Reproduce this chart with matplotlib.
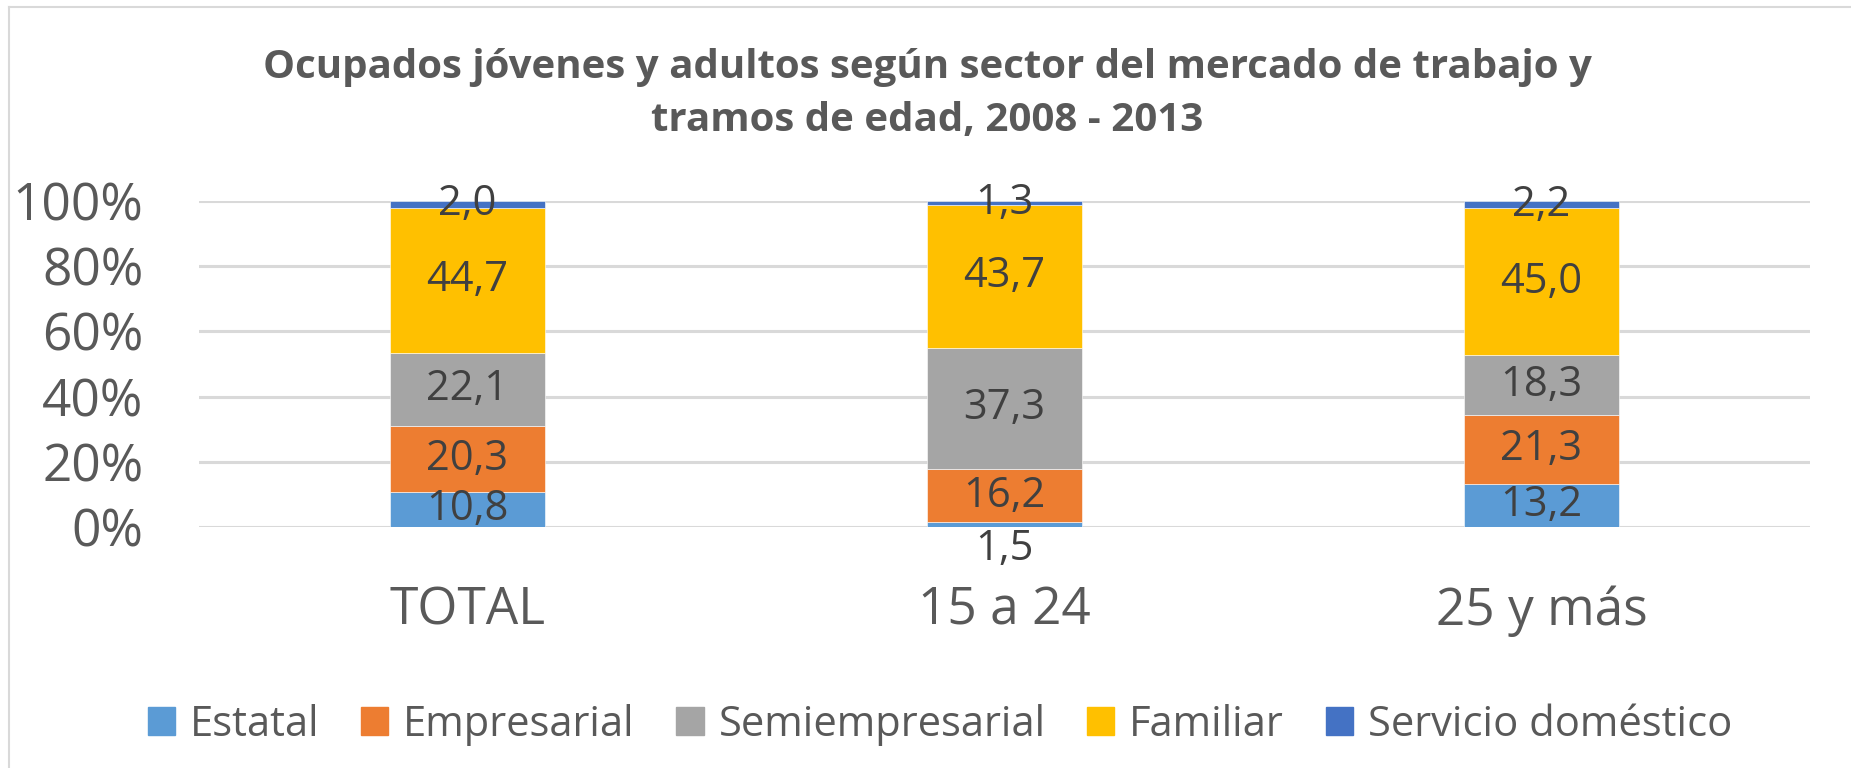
import matplotlib
matplotlib.use("Agg")
import matplotlib.pyplot as plt
from matplotlib.patches import Rectangle
from matplotlib.lines import Line2D
import numpy as np

plt.rcParams['font.family'] = ['Open Sans', 'DejaVu Sans']

title = "Ocupados jóvenes y adultos según sector del mercado de trabajo y\ntramos de edad, 2008 - 2013"
categories = ["TOTAL", "15 a 24", "25 y más"]
series_names = ["Estatal", "Empresarial", "Semiempresarial", "Familiar", "Servicio doméstico"]
estatal = [10.8, 1.5, 13.2]
empresarial = [20.3, 16.2, 21.3]
semiempresarial = [22.1, 37.3, 18.3]
familiar = [44.7, 43.7, 45.0]
servicio = [2.0, 1.3, 2.2]
colors = ["#5B9BD5", "#ED7D31", "#A5A5A5", "#FFC000", "#4472C4"]
yticks = [0, 20, 40, 60, 80, 100]
ytick_labels = ["0%", "20%", "40%", "60%", "80%", "100%"]

W, H = 1851, 768
fig = plt.figure(figsize=(W / 100, H / 100), dpi=100)
ax = fig.add_axes([199 / W, 1 - 527 / H, (1810 - 199) / W, (527 - 201) / H])

data = np.array([estatal, empresarial, semiempresarial, familiar, servicio])
totals = data.sum(axis=0)
pct = data / totals * 100
x = np.arange(len(categories))
bottom = np.zeros(len(categories))
txt_color = "#404040"
for i, name in enumerate(series_names):
    ax.bar(x, pct[i], 0.287, bottom=bottom, color=colors[i], label=name,
           edgecolor="white", linewidth=0.4, zorder=3)
    for j in range(len(categories)):
        yc = bottom[j] + pct[i][j] / 2
        label = f"{data[i][j]:.1f}".replace(".", ",")
        if i == 0 and j == 1:
            ax.annotate(label, (x[j], 0), xytext=(0, -16), textcoords="offset points",
                        ha="center", va="center", fontsize=30, color=txt_color,
                        annotation_clip=False, zorder=5)
        else:
            ax.text(x[j], yc, label, ha="center", va="center", fontsize=30,
                    color=txt_color, zorder=5)
    bottom += pct[i]

ax.set_xlim(-0.5, 2.5)
ax.set_ylim(0, 100)
ax.set_yticks(yticks)
ax.set_yticklabels(ytick_labels)
ax.set_xticks(x)
ax.set_xticklabels(categories)
ax.tick_params(axis="y", length=0, pad=40, labelsize=37, labelcolor="#595959")
ax.tick_params(axis="x", length=0, pad=42, labelsize=37, labelcolor="#595959")
ax.grid(axis="y", color="#D9D9D9", linewidth=2.2, zorder=0)
for s in ax.spines.values():
    s.set_visible(False)
ax.set_axisbelow(True)

fig.text(927 / W, 1 - 48 / H, title, ha="center", va="top", fontsize=29,
         fontweight="bold", color="#595959", linespacing=1.48)

handles = [Rectangle((0, 0), 1, 1, color=c) for c in colors]
fig.legend(handles, series_names, loc="center", bbox_to_anchor=(940 / W, 1 - 725 / H),
           ncol=5, frameon=False, fontsize=30, handlelength=0.65, handleheight=0.65,
           handletextpad=0.36, columnspacing=1.0, labelcolor="#595959")

# chart area border (top and left visible)
fig.add_artist(Line2D([9 / W, 9 / W], [0, 1 - 7 / H], transform=fig.transFigure,
                      color="#D9D9D9", linewidth=1.5))
fig.add_artist(Line2D([9 / W, 1], [1 - 7 / H, 1 - 7 / H], transform=fig.transFigure,
                      color="#D9D9D9", linewidth=1.5))

fig.savefig("out.png", dpi=100)
